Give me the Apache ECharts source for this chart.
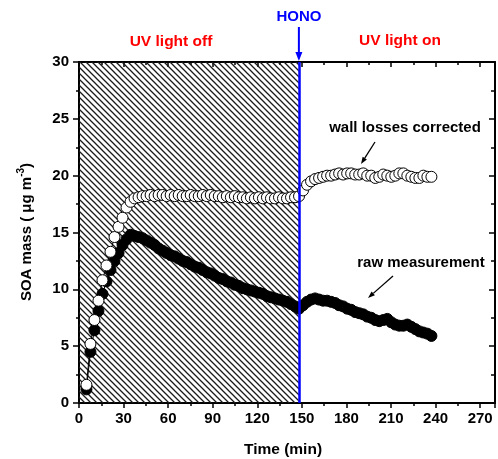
<!DOCTYPE html>
<html><head><meta charset="utf-8">
<script src="https://cdn.jsdelivr.net/npm/echarts@6/dist/echarts.min.js"></script>
<style>html,body{margin:0;padding:0;background:#fff}#c{width:498px;height:459px}</style>
</head><body><div id="c"></div><script>
const times = [5.0,7.7,10.4,13.1,15.8,18.5,21.2,23.9,26.6,29.3,32.0,34.7,
 37.4,40.1,42.8,45.5,48.2,50.9,53.6,56.3,59.0,61.7,64.4,67.1,69.8,72.5,75.2,77.9,80.6,83.3,86.0,88.7,91.4,94.1,96.8,99.5,102.2,104.9,107.6,110.3,113.0,115.7,118.4,121.1,123.8,126.5,129.2,131.9,134.6,137.3,140.0,142.7,145.4,
 148.1,150.8,153.5,156.2,158.9,161.6,164.3,167.0,169.7,172.4,175.1,177.8,180.5,183.2,185.9,188.6,191.3,194.0,196.7,199.4,202.1,204.8,207.5,210.2,212.9,215.6,218.3,221.0,223.7,226.4,229.1,231.8,234.5,237.2];
const rawMeasurement = [1.2,4.5,6.4,8.1,9.6,10.7,11.7,12.5,13.2,13.9,14.4,14.8,
 14.7,14.6,14.5,14.3,14.1,13.9,13.6,13.4,13.2,13.0,12.9,12.7,12.5,12.4,12.2,12.0,11.9,11.7,11.5,11.4,11.2,11.0,10.9,10.7,10.6,10.4,10.3,10.1,10.0,9.9,9.8,9.7,9.6,9.4,9.3,9.2,9.1,9.0,8.9,8.7,8.5,
 8.3,8.6,8.9,9.1,9.2,9.1,9.0,9.0,8.9,8.8,8.6,8.5,8.3,8.2,8.0,7.9,7.8,7.6,7.5,7.3,7.2,7.3,7.4,7.1,6.9,6.8,6.8,6.9,6.7,6.5,6.3,6.2,6.1,5.9];
const wallLossCorrected = [1.6,5.2,7.3,9.0,10.8,12.1,13.3,14.6,15.5,16.3,17.2,17.7,
 18.0,18.1,18.2,18.2,18.3,18.2,18.3,18.3,18.2,18.3,18.2,18.3,18.2,18.2,18.3,18.2,18.2,18.3,18.2,18.3,18.2,18.2,18.1,18.2,18.1,18.2,18.1,18.1,18.0,18.1,18.0,18.1,18.0,18.1,18.0,18.0,18.1,18.0,18.0,18.1,18.1,
 18.2,18.7,19.2,19.5,19.7,19.8,19.9,20.0,20.0,20.1,20.2,20.1,20.2,20.2,20.1,20.1,20.2,20.0,20.0,19.8,19.9,20.1,20.0,19.9,20.0,20.2,20.2,20.0,19.9,19.8,19.8,20.0,19.9,19.9];
const honoTime = 148;
const xRange = [0, 280], xStep = 30;
const yRange = [0, 30], yStep = 5;

const FONT = '"Liberation Sans", Arial, sans-serif';
const chart = echarts.init(document.getElementById('c'), null, {renderer: 'canvas'});

// hatch pattern tile
const tile = document.createElement('canvas');
tile.width = 6; tile.height = 6;
const tc = tile.getContext('2d');
tc.strokeStyle = '#1a1a1a'; tc.lineWidth = 1.3;
tc.beginPath();
tc.moveTo(-2,-2); tc.lineTo(8,8);
tc.moveTo(-8,-2); tc.lineTo(2,8);
tc.moveTo(4,-2); tc.lineTo(14,8);
tc.stroke();

const pair = arr => times.map((t, i) => [t, arr[i]]);
const axisCommon = {
  type: 'value', splitLine: {show: false},
  axisLine: {show: true, onZero: false, lineStyle: {color: '#000', width: 2}},
  minorTick: {show: true, splitNumber: 2, length: 3, lineStyle: {color: '#000', width: 1.5}},
};

function arrow(x1, y1, x2, y2, color, lw, hl, hw) {
  const a = Math.atan2(y2 - y1, x2 - x1);
  const bx = x2 - hl * Math.cos(a), by = y2 - hl * Math.sin(a);
  const px = -Math.sin(a) * hw / 2, py = Math.cos(a) * hw / 2;
  return [
    {type: 'line', silent: true, shape: {x1, y1, x2: bx, y2: by}, style: {stroke: color, lineWidth: lw}},
    {type: 'polygon', silent: true, shape: {points: [[x2, y2], [bx + px, by + py], [bx - px, by - py]]}, style: {fill: color}}
  ];
}

chart.setOption({
  animation: false,
  backgroundColor: '#fff',
  grid: {left: 79, top: 62, width: 418, height: 341},
  xAxis: [
    Object.assign({}, axisCommon, {min: xRange[0], max: xRange[1], interval: xStep, position: 'bottom',
      axisTick: {show: true, inside: false, length: 5, lineStyle: {color: '#000', width: 1.5}},
      axisLabel: {show: true, margin: 8, color: '#000', fontSize: 15, fontWeight: 'bold', fontFamily: FONT,
        formatter: v => (v % xStep === 0 ? String(v) : '')}}),
    Object.assign({}, axisCommon, {min: xRange[0], max: xRange[1], interval: xStep, position: 'top',
      axisTick: {show: true, inside: true, length: 5, lineStyle: {color: '#000', width: 1.5}},
      minorTick: {show: true, splitNumber: 2, length: 3, lineStyle: {color: '#000', width: 1.5}},
      axisLabel: {show: false}})
  ],
  yAxis: [
    Object.assign({}, axisCommon, {min: yRange[0], max: yRange[1], interval: yStep, position: 'left',
      axisTick: {show: true, inside: false, length: 6, lineStyle: {color: '#000', width: 1.5}},
      axisLabel: {show: true, margin: 10, color: '#000', fontSize: 15, fontWeight: 'bold', fontFamily: FONT}}),
    Object.assign({}, axisCommon, {min: yRange[0], max: yRange[1], interval: yStep, position: 'right',
      axisTick: {show: true, inside: true, length: 6, lineStyle: {color: '#000', width: 1.5}},
      minorTick: {show: true, splitNumber: 2, length: 4, lineStyle: {color: '#000', width: 1.5}},
      axisLabel: {show: false}})
  ],
  series: [
    {
      name: 'raw measurement', type: 'line', data: pair(rawMeasurement),
      symbol: 'circle', symbolSize: 11, z: 3,
      lineStyle: {color: '#000', width: 1},
      itemStyle: {color: '#000', borderColor: '#000', borderWidth: 1},
      markArea: {silent: true, z: 1,
        itemStyle: {color: {image: tile, repeat: 'repeat'}, borderWidth: 0},
        data: [[{coord: [xRange[0], yRange[0]]}, {coord: [honoTime, yRange[1]]}]]},
      markLine: {silent: true, symbol: ['none', 'none'], label: {show: false},
        lineStyle: {color: '#0000ff', width: 2.5, type: 'solid'},
        data: [{xAxis: honoTime}]}
    },
    {
      name: 'wall losses corrected', type: 'line', data: pair(wallLossCorrected),
      symbol: 'circle', symbolSize: 11, z: 4,
      lineStyle: {color: '#000', width: 1},
      itemStyle: {color: '#fff', borderColor: '#000', borderWidth: 1}
    }
  ]
});

const hx = chart.convertToPixel({xAxisIndex: 0}, honoTime);
const txt = (text, x, y, size, color, extra) => Object.assign({type: 'text', silent: true, x, y,
  style: {text, fill: color, font: 'bold ' + size + 'px ' + FONT, align: 'center', verticalAlign: 'middle'}}, extra || {});

chart.setOption({graphic: [
  txt('UV light off', 171, 42, 15.5, '#ff0000'),
  txt('UV light on', 400, 41, 15.5, '#ff0000'),
  txt('HONO', hx, 17, 15, '#0000ff'),
  ...arrow(hx, 27, hx, 61, '#0000ff', 2, 9, 7),
  txt('wall losses corrected', 405, 128, 15, '#000'),
  ...arrow(375, 142, 361, 164, '#000', 1.3, 7, 5),
  txt('raw measurement', 421, 263, 15, '#000'),
  ...arrow(393, 276, 368, 298, '#000', 1.3, 7, 5),
  txt('Time (min)', 283, 450, 15.5, '#000'),
  {type: 'text', silent: true, x: 25, y: 232, rotation: Math.PI / 2,
    style: {text: '{a|SOA mass ( μg m}{s|-3}{a|)}', align: 'center', verticalAlign: 'middle',
      rich: {a: {font: 'bold 15px ' + FONT, fill: '#000', lineHeight: 18, verticalAlign: 'bottom'},
             s: {font: 'bold 10px ' + FONT, fill: '#000', lineHeight: 18, verticalAlign: 'top', padding: [0, 0, 8, 0]}}}}
]});
</script></body></html>
